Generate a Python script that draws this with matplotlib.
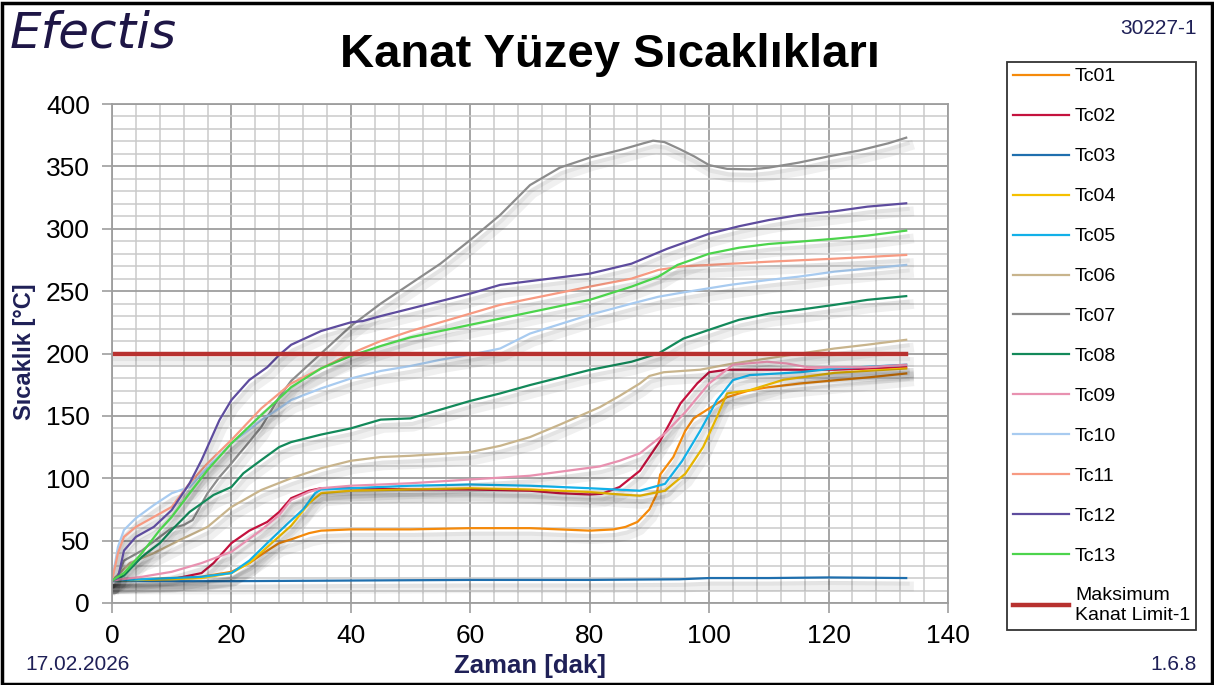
import matplotlib
matplotlib.use("Agg")
import matplotlib.pyplot as plt
import matplotlib.patheffects as pe
from matplotlib.patches import Rectangle
from matplotlib.ticker import MultipleLocator

plt.rcParams['font.family'] = ['Liberation Sans', 'DejaVu Sans']

# okunan veriler (zaman [dak], sicaklik [C])
t01 = [0, 5, 10, 15, 20, 23, 26, 28, 30, 33, 35, 40, 50, 60, 70, 80, 84, 86, 88, 90, 91.2, 91.8, 94, 96, 97.4, 100, 103, 106.8, 110, 115.3, 121, 127, 133]
T01 = [18, 19, 20, 21, 25, 32, 42, 48, 51, 56, 58, 59, 59, 60, 60, 58, 59, 61, 65, 75, 87, 103, 117, 138, 148, 156, 165, 170.5, 173, 176, 178.5, 181, 184]

t02 = [0, 5, 10, 15, 17, 20, 23, 26, 28, 30, 33, 35, 40, 50, 60, 70, 75, 80, 82, 85, 88.4, 91.8, 95.2, 98, 100, 103, 110, 121, 133]
T02 = [18, 18, 19, 24, 32, 48, 58, 65, 73, 84, 90, 92, 92, 91, 91, 90, 88, 87, 87.5, 93, 106, 130, 160, 176, 185, 187, 187, 187, 189]

t03 = [0, 20, 40, 60, 80, 95, 100, 110, 120, 133]
T03 = [17.5, 17.5, 18, 18.5, 18.5, 19, 20, 20, 20.5, 20]

t04 = [0, 10, 15, 20, 23, 26, 30, 33, 35, 40, 50, 60, 70, 80, 85, 88.4, 92.6, 96, 99, 101.3, 103, 106.8, 112.5, 121, 133]
T04 = [18, 19, 20, 24, 32, 45, 62, 80, 88, 90, 91, 92, 91, 89, 87, 86, 90, 103.6, 125, 149, 168, 170.6, 179, 184.5, 188]

t05 = [0, 10, 15, 20, 23, 26, 29.5, 32, 34, 35, 40, 50, 60, 70, 80, 88.4, 92.6, 95.5, 98.5, 101.3, 104, 106.8, 115.3, 121, 133]
T05 = [18, 20, 21, 24, 34, 48, 64, 75, 88, 91, 92, 94, 95, 94, 92, 90, 95.5, 114, 138, 162.5, 178.7, 182.7, 185, 188, 191]

t06 = [0, 3, 7, 12, 16, 20, 25, 30, 35, 40, 45, 50, 60, 65, 70, 75, 81.7, 85, 88.4, 90, 92.4, 98.5, 104, 109.7, 115.3, 121, 126.4, 133]
T06 = [18, 32, 40, 52, 61, 77, 90.6, 100, 108, 114, 117, 118, 121, 126, 133, 143, 157, 166, 176, 182, 185, 187, 192, 196, 200, 204, 207, 211]

t07 = [0, 1, 2, 5, 8, 10, 12, 13.5, 16, 18, 20, 25, 28, 30, 35, 40, 45, 50, 55, 60, 65, 70, 75, 80, 85, 89, 90.6, 92.5, 95, 97.5, 100, 103, 107, 110, 115, 120, 125, 130, 133]
T07 = [18, 22, 34, 42, 53, 60, 62.5, 66.5, 88, 101, 112, 141, 165, 178, 200, 222, 240, 256, 272, 291, 311, 335, 349, 357, 363, 368.5, 370.6, 369.5, 364, 358, 351, 348, 347.6, 349, 353, 358, 362.6, 368.5, 373]

t08 = [0, 2, 5, 8, 10, 13, 17, 20, 22, 25, 28, 30, 35, 40, 45, 50, 55, 60, 65, 70, 80, 87, 91.5, 95.7, 100, 105, 110, 115, 121, 126.5, 133]
T08 = [18, 22, 37, 48, 58.5, 73, 86.6, 93, 104, 114.6, 125, 129, 135, 140, 147, 148, 155, 162, 168, 174.7, 186.8, 193.4, 200, 212, 219, 227, 232, 235, 239, 243, 246]

t09 = [0, 5, 10, 15, 20, 25, 28, 30, 33, 35, 40, 50, 60, 70, 81.7, 85, 88.4, 92.6, 96, 100, 104, 109.7, 113, 116.5, 126.4, 133]
T09 = [18, 21, 25, 32, 41, 58.5, 70.5, 82.6, 89, 92, 94, 96, 99, 102, 109.5, 114, 120, 136, 153, 176, 191, 193.4, 192, 189, 189, 191]

t10 = [0, 1, 2, 4, 7, 10, 13, 16, 20, 25, 28, 30, 35, 40, 45, 50, 55, 60, 65, 70, 80, 87, 91.5, 95.7, 103.5, 110, 115, 121, 133]
T10 = [18, 45, 58.5, 68, 78.5, 88, 93, 109, 128, 146.7, 156, 162.7, 172, 180, 186, 190, 195, 199, 204, 216, 231, 240, 245.5, 249, 255, 259, 261.6, 265.6, 271]

t11 = [0, 1, 2, 4, 7, 10, 13, 16, 20, 25, 28, 30, 35, 40, 45, 50, 55, 60, 65, 80, 87, 91.5, 95.7, 100, 110, 121, 133]
T11 = [18, 40, 53, 61, 69, 77, 96, 112, 130.7, 156, 168, 176, 188, 200, 210, 218, 225, 232, 239, 253.6, 260, 267, 270, 271, 273.6, 276, 279]

t12 = [0, 1, 2, 4, 7, 10, 13, 15, 18, 20, 23, 26, 28, 30, 35, 40, 42, 45, 50, 55, 60, 65, 70, 75, 80, 87, 93, 100, 105, 110, 115, 121, 126.5, 133]
T12 = [18, 20, 42, 53, 61, 74.5, 96, 114.6, 146.7, 162.7, 178.8, 189, 198.8, 207, 218, 225, 226, 230, 236, 242, 248, 255, 258, 261, 264, 272, 284, 296, 302, 307, 311, 314, 317.7, 320.4]

t13 = [0, 2, 5, 8, 10, 13, 16, 20, 25, 28, 30, 35, 40, 45, 50, 55, 60, 65, 80, 87, 91.5, 94.7, 100, 105, 110, 115, 121, 126.5, 133]
T13 = [18, 24, 40, 58.5, 69, 88, 106.6, 128, 150.7, 164, 173, 188, 198, 206, 213, 218, 223, 228, 243, 253.6, 261.6, 271, 280, 284.8, 287.8, 289.6, 292, 294.5, 298.5]

limit_t = [0, 133]
limit_T = [200, 200]

etiketler = ['Tc01', 'Tc02', 'Tc03', 'Tc04', 'Tc05', 'Tc06', 'Tc07',
             'Tc08', 'Tc09', 'Tc10', 'Tc11', 'Tc12', 'Tc13']
renkler = ['#F58A0A', '#C4123E', '#1F6FAE', '#F5C000', '#12B0E8', '#C8B48C', '#8C8C8C',
           '#13895A', '#E891B0', '#A8CBF0', '#F79A82', '#5E4C9E', '#4CD44C']
seriler = [(t01, T01), (t02, T02), (t03, T03), (t04, T04), (t05, T05), (t06, T06), (t07, T07),
           (t08, T08), (t09, T09), (t10, T10), (t11, T11), (t12, T12), (t13, T13)]

lacivert = '#1F2057'

fig = plt.figure(figsize=(12.14, 6.85), dpi=100)
ax = fig.add_axes([112/1214, 82/685, 836/1214, 499/685])

# hafif golge (excel tarzi)
golge = [pe.SimpleLineShadow(offset=(2, -6), shadow_color='black', alpha=0.06, linewidth=7),
         pe.SimpleLineShadow(offset=(1, -4), shadow_color='black', alpha=0.05, linewidth=3),
         pe.Normal()]

handles = []
for (x, y), lab, c in zip(seriler, etiketler, renkler):
    ln, = ax.plot(x, y, color=c, lw=1.6, label=lab, path_effects=golge)
    handles.append(ln)
lim, = ax.plot(limit_t, limit_T, color='#B8312F', lw=3.2, label='Maksimum\nKanat Limit-1', path_effects=golge)
handles.append(lim)

ax.set_xlim(0, 140)
ax.set_ylim(0, 400)
ax.xaxis.set_major_locator(MultipleLocator(20))
ax.xaxis.set_minor_locator(MultipleLocator(4))
ax.yaxis.set_major_locator(MultipleLocator(50))
ax.yaxis.set_minor_locator(MultipleLocator(10))
ax.grid(which='major', color='#9E9E9E', lw=1.3)
ax.grid(which='minor', color='#CACACA', lw=1.1)
ax.set_axisbelow(True)
for s in ax.spines.values():
    s.set_color('#9E9E9E')
    s.set_linewidth(1.3)
ax.tick_params(which='major', length=7, width=1.2, color='#9E9E9E', labelsize=19, pad=8)
ax.tick_params(which='minor', length=0)
ax.tick_params(axis='y', pad=9)

fig.text(25/1214, 1 - 352/685, 'Sıcaklık [°C]', fontsize=17, fontweight='bold', color=lacivert,
         rotation=90, ha='center', va='center')
fig.text(530/1214, 1 - 666/685, 'Zaman [dak]', fontsize=18.5, fontweight='bold', color=lacivert,
         ha='center', va='center')

fig.text(610/1214, 1 - 55/685, 'Kanat Yüzey Sıcaklıkları', fontsize=34, fontweight='bold',
         ha='center', va='center')
fig.text(1197/1214, 1 - 28/685, '30227-1', fontsize=15, color=lacivert, ha='right', va='center')
fig.text(25/1214, 1 - 664/685, '17.02.2026', fontsize=15, color=lacivert, ha='left', va='center')
fig.text(1197/1214, 1 - 664/685, '1.6.8', fontsize=15, color=lacivert, ha='right', va='center')

# logo
fig.text(10/1214, 1 - 33/685, 'Efectis', fontsize=36, fontstyle='italic', color='#1E1646',
         ha='left', va='center', family='DejaVu Sans')

leg = fig.legend(handles=handles, loc='upper left', bbox_to_anchor=(1007/1214, 1 - 62/685),
                 fontsize=14, frameon=True, fancybox=False, edgecolor='black',
                 handlelength=2.9, handletextpad=0.3, labelspacing=1.15, borderpad=0.3,
                 borderaxespad=0)
leg.get_frame().set_linewidth(1.3)
for h in leg.legend_handles:
    h.set_path_effects([])

fig.patches.append(Rectangle((0.002, 0.002), 0.996, 0.994, transform=fig.transFigure,
                             fill=False, edgecolor='black', lw=2.5))

fig.savefig('out.png', dpi=100)
